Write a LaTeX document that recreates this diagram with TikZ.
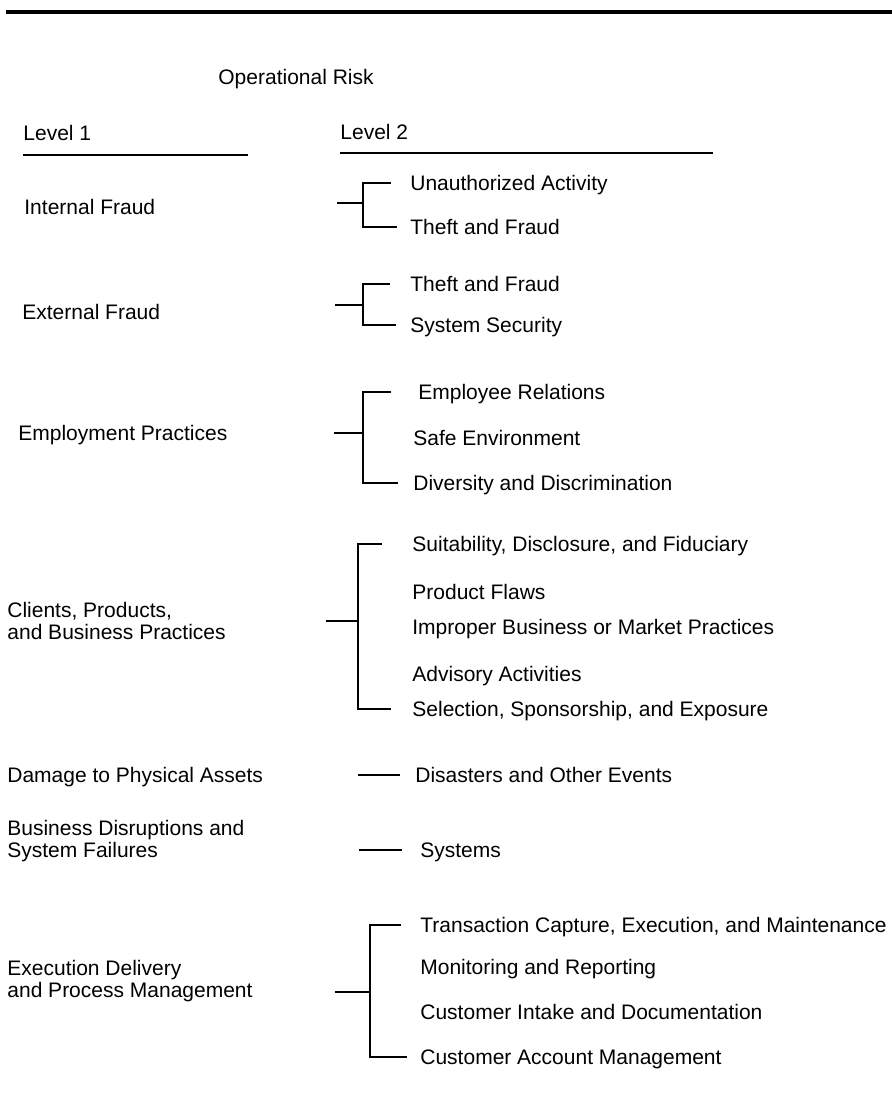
\documentclass[tikz,border=0pt]{standalone}
\usepackage{fontspec}
\setmainfont{Liberation Sans}
\usetikzlibrary{calc}
\begin{document}
\begin{tikzpicture}[x=0.5pt,y=-0.5pt,
  lbl/.style={inner sep=0pt, anchor=west, text height=7.5pt, text depth=0pt,
              font=\fontsize{10.5}{11.25}\selectfont},
  lbltwo/.style={inner sep=0pt, anchor=base west, align=left,
              font=\fontsize{10.5}{11.25}\selectfont},
  link/.style={line width=0.75pt},
]
\useasboundingbox (0,0) rectangle (892,1108);
% heavy rule across the top
\fill (6,10) rectangle (892,14);

% headings
\node[lbl] (head) at (218,77) {Operational Risk};
\node[lbl] (lv1) at (23,133) {Level 1};
\node[lbl] (lv2) at (340,132) {Level 2};
\draw[link] ($(lv1.west)+(0,22)$) -- ++(225,0);
\draw[link] ($(lv2.west)+(0,21)$) -- ++(373,0);

% level 1 categories (two-line labels sit on the baseline of their last line)
\node[lbl] (l1) at (24,207) {Internal Fraud};
\node[lbl] (l2) at (22,312) {External Fraud};
\node[lbl] (l3) at (18,433) {Employment Practices};
\node[lbltwo] (l4) at (7,639.5) {Clients, Products,\\and Business Practices};
\node[lbl] (l5) at (7,775) {Damage to Physical Assets};
\node[lbltwo] (l6) at (7,857.5) {Business Disruptions and\\System Failures};
\node[lbltwo] (l7) at (7,997.5) {Execution Delivery\\and Process Management};

% level 2: internal fraud
\node[lbl] (r11) at (410,183) {Unauthorized Activity};
\node[lbl] (r12) at (410,227) {Theft and Fraud};
\coordinate (j1) at (363,203);
\draw[link] ($(j1)+(-26,0)$) -- (j1);
\draw[link] ($(r11.west)+(-19,0)$) -| (j1) |- ($(r12.west)+(-13,0)$);

% level 2: external fraud
\node[lbl] (r21) at (410,284) {Theft and Fraud};
\node[lbl] (r22) at (410,325) {System Security};
\coordinate (j2) at (363,305);
\draw[link] ($(j2)+(-28,0)$) -- (j2);
\draw[link] ($(r21.west)+(-20,0)$) -| (j2) |- ($(r22.west)+(-14,0)$);

% level 2: employment practices
\node[lbl] (r31) at (418,392) {Employee Relations};
\node[lbl] (r32) at (413,438) {Safe Environment};
\node[lbl] (r33) at (413,483) {Diversity and Discrimination};
\coordinate (j3) at (363,433);
\draw[link] ($(j3)+(-29,0)$) -- (j3);
\draw[link] ($(r31.west)+(-27,0)$) -| (j3) |- ($(r33.west)+(-15,0)$);

% level 2: clients, products, and business practices
\node[lbl] (r41) at (412,544) {Suitability, Disclosure, and Fiduciary};
\node[lbl] (r42) at (412,592) {Product Flaws};
\node[lbl] (r43) at (412,627) {Improper Business or Market Practices};
\node[lbl] (r44) at (412,674) {Advisory Activities};
\node[lbl] (r45) at (412,709) {Selection, Sponsorship, and Exposure};
\coordinate (j4) at (358,621);
\draw[link] ($(j4)+(-32,0)$) -- (j4);
\draw[link] ($(r41.west)+(-30,0)$) -| (j4) |- ($(r45.west)+(-21,0)$);

% level 2: damage to physical assets
\node[lbl] (r51) at (415,775) {Disasters and Other Events};
\draw[link] ($(r51.west)+(-57,0)$) -- ($(r51.west)+(-15,0)$);

% level 2: business disruptions
\node[lbl] (r61) at (420,850) {Systems};
\draw[link] ($(r61.west)+(-61,0)$) -- ($(r61.west)+(-18,0)$);

% level 2: execution delivery and process management
\node[lbl] (r71) at (420,925) {Transaction Capture, Execution, and Maintenance};
\node[lbl] (r72) at (420,967) {Monitoring and Reporting};
\node[lbl] (r73) at (420,1012) {Customer Intake and Documentation};
\node[lbl] (r74) at (420,1057) {Customer Account Management};
\coordinate (j7) at (370,992);
\draw[link] ($(j7)+(-35,0)$) -- (j7);
\draw[link] ($(r71.west)+(-19,0)$) -| (j7) |- ($(r74.west)+(-13,0)$);
\end{tikzpicture}
\end{document}
